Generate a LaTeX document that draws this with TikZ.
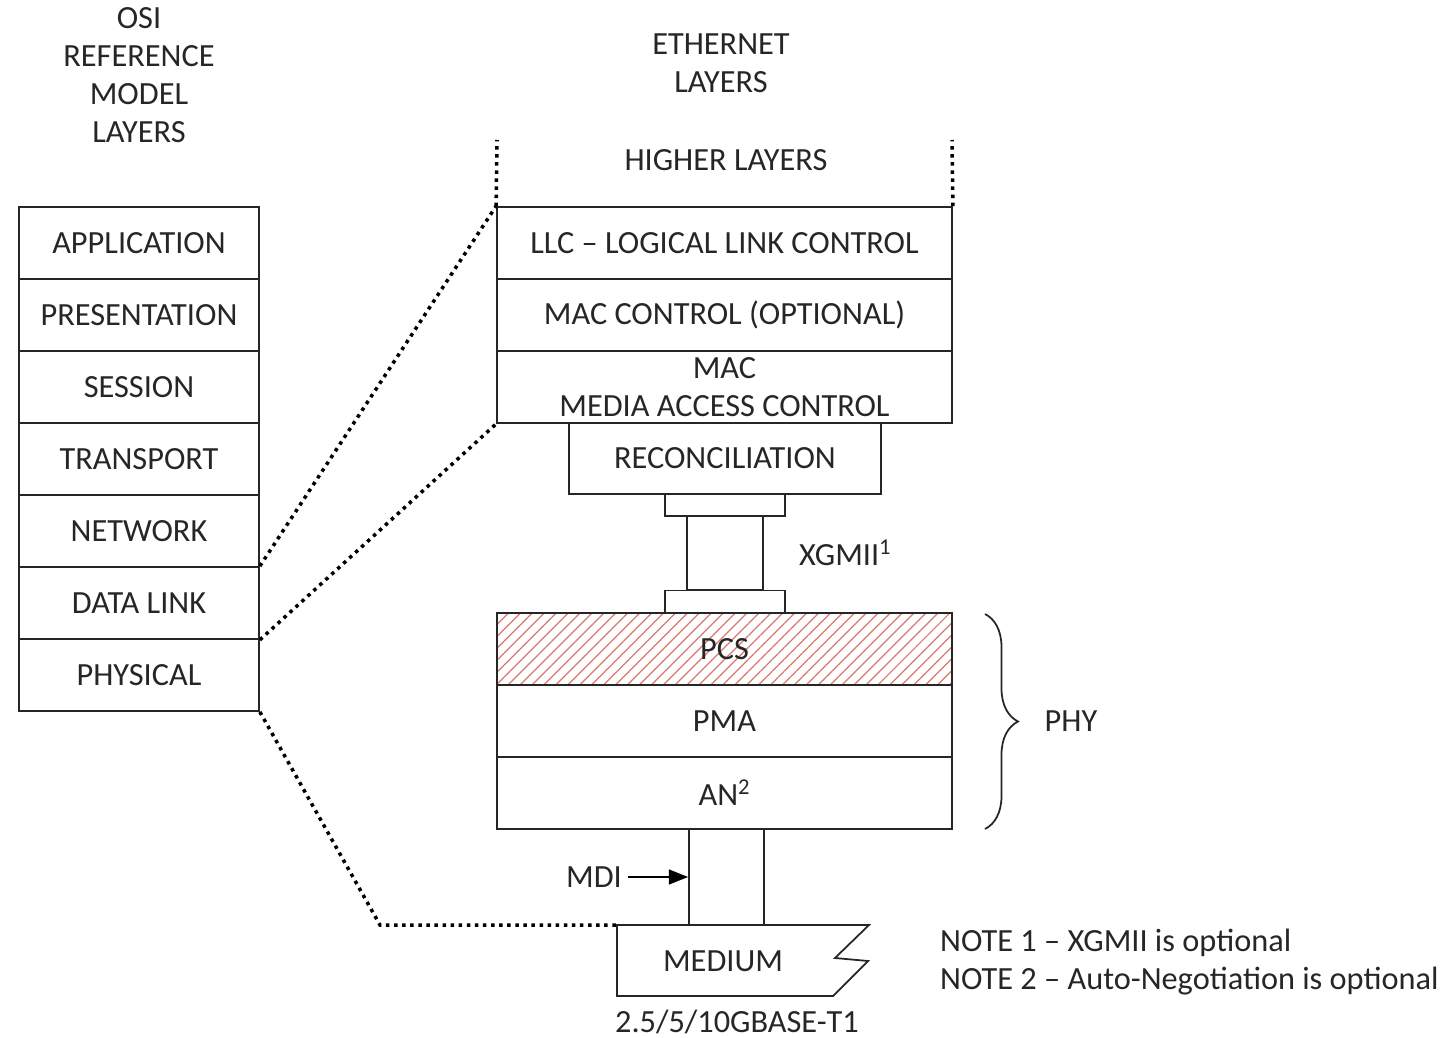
\documentclass[tikz,border=0pt]{standalone}
\usepackage{fontspec}
\setmainfont{Carlito}
\usepackage{xcolor}
\usepackage{tikz}
\usetikzlibrary{arrows.meta, positioning, patterns.meta, decorations.pathreplacing}
\definecolor{inkgray}{HTML}{262626}
\definecolor{hatchred}{HTML}{D9776F}
\tikzstyle{osilayer} = [rectangle, minimum width=4.8cm, minimum height=1.44cm, text centered, inner sep=0pt, draw=inkgray, line width=1pt]
\tikzstyle{ethlayer} = [rectangle, minimum width=9.1cm, minimum height=1.44cm, text centered, inner sep=0pt, draw=inkgray, line width=1pt]
\tikzstyle{recbox} = [rectangle, minimum width=6.24cm, minimum height=1.42cm, text centered, inner sep=0pt, draw=inkgray, line width=1pt]
\tikzstyle{plate} = [rectangle, minimum width=2.4cm, minimum height=0.44cm, inner sep=0pt, draw=inkgray, line width=1pt]
\tikzstyle{column} = [rectangle, minimum width=1.52cm, minimum height=1.48cm, inner sep=0pt, draw=inkgray, line width=1pt]
\tikzstyle{dotline} = [line width=2pt, dash pattern=on 2pt off 2.6pt, black]
\tikzstyle{arrow} = [line width=1pt, -{Triangle[length=11pt, width=8.5pt]}, black]
\tikzstyle{heading} = [align=center, text=inkgray]

\begin{document}
\begin{tikzpicture}[node distance=1.44cm, font=\fontsize{18.4}{21.6}\selectfont, text=inkgray]
\useasboundingbox (0,0) rectangle (29.04,-20.76);

% headings
\node (osihead) [heading] at (2.78,-1.5) {OSI\\REFERENCE\\MODEL\\LAYERS};
\node (ethhead) [heading] at (14.42,-1.26) {ETHERNET\\LAYERS};
\node (higher) at (14.52,-3.2) {HIGHER LAYERS};

% OSI stack
\node (app) [osilayer] at (2.78,-4.86) {APPLICATION};
\node (pres) [osilayer, below of=app] {PRESENTATION};
\node (sess) [osilayer, below of=pres] {SESSION};
\node (trans) [osilayer, below of=sess] {TRANSPORT};
\node (net) [osilayer, below of=trans] {NETWORK};
\node (dlink) [osilayer, below of=net] {DATA LINK};
\node (phys) [osilayer, below of=dlink] {PHYSICAL};

% Ethernet stack
\node (llc) [ethlayer] at (14.49,-4.86) {LLC -- LOGICAL LINK CONTROL};
\node (macctrl) [ethlayer, below of=llc] {MAC CONTROL (OPTIONAL)};
\node (mac) [ethlayer, below of=macctrl, align=center] {MAC\\MEDIA ACCESS CONTROL};
\node (recon) [recbox] at (14.5,-9.17) {RECONCILIATION};

\node (xtop) [plate] at (14.5,-10.1) {};
\node (xcol) [column] at (14.5,-11.06) {};
\node (xbot) [plate] at (14.5,-12.03) {};
\node (xgmii) [right=0.58cm of xcol] {XGMII\textsuperscript{1}};

\node (pcs) [ethlayer, pattern={Lines[angle=45, distance=4.8pt, line width=0.7pt]}, pattern color=hatchred] at (14.49,-12.98) {PCS};
\node (pma) [ethlayer, below of=pcs] {PMA};
\node (an) [ethlayer, below of=pma] {AN\textsuperscript{2}};

\node (mdicol) [column, minimum width=1.5cm, minimum height=1.92cm] at (14.53,-17.54) {};
\node (mditext) at (11.88,-17.54) {MDI};
\draw [arrow] (mditext.east) -- (mdicol.west);

% medium
\coordinate (medtl) at (12.34,-18.5);
\node (medium) at (14.46,-19.22) {MEDIUM};
\draw [inkgray, line width=1pt] (medtl) -- (17.38,-18.5) -- (16.70,-19.16) -- (17.36,-19.22) -- (16.66,-19.92) -- (12.34,-19.92) -- cycle;
\node (gbase) [inner sep=0pt] at (14.74,-20.44) {2.5/5/10GBASE-T1};

% PHY brace
\coordinate (phytop) at (19.7,-12.28);
\coordinate (phybot) at (19.7,-16.58);
\draw [inkgray, line width=1pt, decorate, decoration={brace, amplitude=0.66cm}] (phytop) -- (phybot);
\node (phy) at (21.42,-14.42) {PHY};

% notes
\node (notes) [anchor=west, align=left] at (18.68,-19.24) {NOTE 1 -- XGMII is optional\\NOTE 2 -- Auto-Negotiation is optional};

% dotted mapping lines
\coordinate (hlleft) at (9.94,-2.8);
\coordinate (hlright) at (19.04,-2.8);
\coordinate (medcorner) at (7.6,-18.5);
\draw [dotline] (llc.north west) -- (hlleft);
\draw [dotline] (llc.north east) -- (hlright);
\draw [dotline] (dlink.north east) -- (llc.north west);
\draw [dotline] (dlink.south east) -- (mac.south west);
\draw [dotline] (phys.south east) -- (medcorner) -- (medtl);
\end{tikzpicture}
\end{document}
